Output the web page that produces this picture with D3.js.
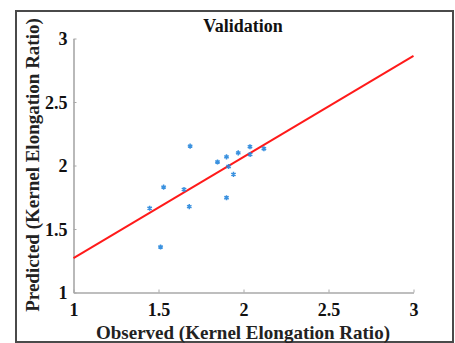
<!DOCTYPE html>
<html>
<head>
<meta charset="utf-8">
<script src="https://cdn.jsdelivr.net/npm/d3@7"></script>
<style>
  html, body { margin: 0; padding: 0; background: #fff; }
  svg { display: block; }
</style>
</head>
<body>
<svg id="chart" width="455" height="343"></svg>
<script>
// Observed vs predicted kernel elongation ratio (validation set)
const observed  = [1.686, 1.847, 1.900, 1.969, 2.038, 2.039, 2.120, 1.912, 1.941, 1.900, 1.650, 1.530, 1.681, 1.448, 1.512];
const predicted = [2.153, 2.028, 2.068, 2.099, 2.148, 2.087, 2.132, 1.992, 1.930, 1.746, 1.811, 1.830, 1.676, 1.663, 1.358];
// Fitted line: predicted = intercept + slope * observed
const fitIntercept = 0.474;
const fitSlope = 0.7965;
const xTicks = [1, 1.5, 2, 2.5, 3];
const yTicks = [1, 1.5, 2, 2.5, 3];

const svg = d3.select("#chart");
const serif = "'Liberation Serif', 'Times New Roman', serif";

// Figure frame
svg.append("rect")
  .attr("x", 16).attr("y", 11)
  .attr("width", 437).attr("height", 331)
  .attr("fill", "#fff")
  .attr("stroke", "#4a4a4a").attr("stroke-width", 2);

const x = d3.scaleLinear().domain([1, 3]).range([73.5, 413.5]);
const y = d3.scaleLinear().domain([1, 3]).range([292.5, 38.5]);

const axisColor = "#a8a8a8";

const xAxis = svg.append("g")
  .attr("transform", `translate(0,${y(1)})`)
  .call(d3.axisBottom(x).tickValues(xTicks).tickFormat(d3.format("")).tickSizeInner(-3).tickSizeOuter(0).tickPadding(11));
const yAxis = svg.append("g")
  .attr("transform", `translate(${x(1)},0)`)
  .call(d3.axisLeft(y).tickValues(yTicks).tickFormat(d3.format("")).tickSizeInner(-3).tickSizeOuter(0).tickPadding(6));

[xAxis, yAxis].forEach(g => {
  g.select(".domain").attr("stroke", axisColor).attr("stroke-width", 1.6);
  g.selectAll(".tick line").attr("stroke", axisColor).attr("stroke-width", 1);
  g.selectAll(".tick text")
    .attr("fill", "#111")
    .style("font-family", serif)
    .style("font-weight", "bold")
    .style("font-size", "18px");
});
xAxis.selectAll(".tick text").attr("dy", "0.71em");
yAxis.selectAll(".tick text").attr("dy", "0.34em");

// Fitted regression line
const fit = xv => fitIntercept + fitSlope * xv;
svg.append("line")
  .attr("x1", x(1)).attr("y1", y(fit(1)))
  .attr("x2", x(3)).attr("y2", y(fit(3)))
  .attr("stroke", "#ff1a1a").attr("stroke-width", 2);

// Data points as asterisks
const sym = d3.symbolAsterisk || d3.symbolCross;
const data = observed.map((o, i) => ({ o, p: predicted[i] }));
svg.append("g").selectAll("path")
  .data(data)
  .join("path")
  .attr("transform", d => `translate(${x(d.o)},${y(d.p)})`)
  .attr("d", d3.symbol(sym, 18))
  .attr("fill", "none")
  .attr("stroke", "#2585dc")
  .attr("stroke-width", 1.5)
  .attr("opacity", 0.9);

// Title
svg.append("text")
  .attr("x", 243).attr("y", 32)
  .attr("text-anchor", "middle")
  .style("font-family", serif).style("font-weight", "bold").style("font-size", "18px")
  .attr("fill", "#111")
  .text("Validation");

// Axis labels
svg.append("text")
  .attr("x", 243).attr("y", 339)
  .attr("text-anchor", "middle")
  .style("font-family", serif).style("font-weight", "bold").style("font-size", "19px")
  .attr("fill", "#222")
  .text("Observed (Kernel Elongation Ratio)");

svg.append("text")
  .attr("transform", "translate(39,165) rotate(-90)")
  .attr("text-anchor", "middle")
  .style("font-family", serif).style("font-weight", "bold").style("font-size", "19px")
  .attr("fill", "#222")
  .text("Predicted (Kernel Elongation Ratio)");
</script>
</body>
</html>
